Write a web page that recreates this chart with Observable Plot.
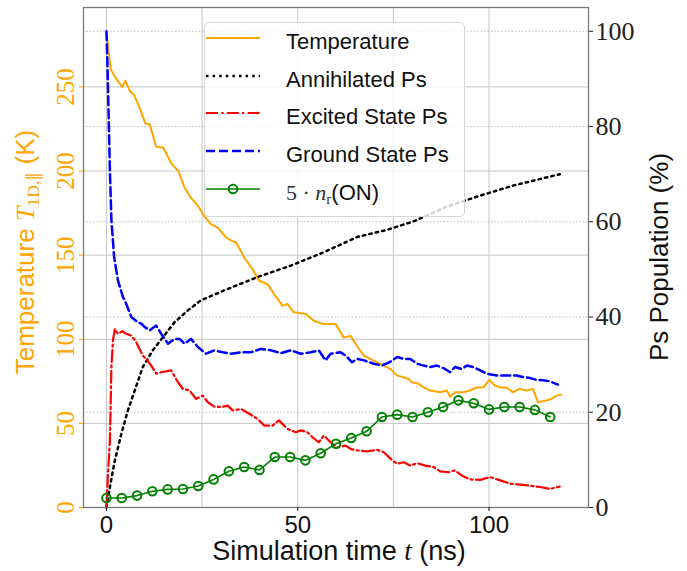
<!DOCTYPE html>
<html>
<head>
<meta charset="utf-8">
<script src="https://cdn.jsdelivr.net/npm/d3@7"></script>
<script src="https://cdn.jsdelivr.net/npm/@observablehq/plot@0.6"></script>
<style>
  body { margin: 0; background: #fff; }
  #wrap { position: relative; width: 687px; height: 571px; overflow: hidden; font-family: "Liberation Sans", sans-serif; }
  #wrap svg { position: absolute; left: 0; top: 0; }
  .lab { position: absolute; white-space: nowrap; line-height: 1; font-size: 26px; transform: translate(-50%, -50%); }
  .rot { transform: translate(-50%, -50%) rotate(-90deg); }
  .m { font-family: "Liberation Serif", serif; }
  .mi { font-family: "Liberation Serif", serif; font-style: italic; }
  .sub { font-family: "Liberation Serif", serif; font-size: 0.68em; position: relative; top: 0.3em; }
  #legend { position: absolute; left: 204px; top: 22px; width: 261px; height: 195px; box-sizing: border-box;
            border: 1px solid #d6d6d6; border-radius: 5px; background: rgba(255,255,255,0.82); }
  .row { position: absolute; left: 0; height: 30px; width: 100%; }
  .row svg { position: absolute; left: 8px; top: 5px; }
  .row span.t { position: absolute; left: 81px; top: 3px; font-size: 22px; line-height: 1; white-space: nowrap; color: #111; }
</style>
</head>
<body>
<div id="wrap"></div>
<script>
// ---------------- data ----------------
const tempTime = [0, 1.1, 2.6, 4.1, 5.0, 6.1, 7.2, 8.7, 10.2, 11.3, 13, 14.8, 17.1, 18.8, 20.4, 22.1, 23.9, 25.6, 27.3, 29.1, 31.3, 32.6, 33.9, 36, 38.2, 39.9, 42.1, 43.8, 46, 47.3, 49, 52.1, 54.2, 56.8, 59.9, 62, 63.8, 65.5, 67.3, 69, 70.8, 72.5, 74.2, 76, 77.7, 79, 79.8, 81.6, 82.9, 84.6, 87.2, 89, 89.8, 91.1, 93.3, 95, 96.8, 98.5, 100.1, 101.6, 102.9, 104.6, 106.2, 108, 109.8, 111.5, 112.8, 114.6, 116.3, 117.6, 118.9];
const tempK = [283, 260.5, 254.6, 250, 253.6, 247.6, 245.3, 237.4, 228.2, 227.8, 214.4, 214, 204, 200, 190.2, 184, 179.3, 173, 168.5, 166.4, 160.5, 158.6, 157.5, 148.6, 141.7, 134.8, 132.8, 126.9, 120, 121, 116, 115, 111, 109, 109, 101, 102, 96, 90.3, 88.3, 86.3, 84.3, 82.4, 78.4, 77.4, 76.4, 74.4, 73.5, 71.4, 69.5, 68.5, 69.5, 65.9, 68.5, 68.5, 69.5, 71.4, 71.4, 75.8, 72.4, 71.4, 71.4, 68.5, 70.5, 69.5, 70.5, 62.5, 63.5, 64.5, 66.5, 67.1];

const annTime = [0, 0.9, 2.2, 3.9, 5.6, 7.4, 9.5, 12.1, 14.8, 17.8, 21.3, 24.7, 30.8, 39.5, 48.2, 56.8, 65.5, 73.3, 80.3, 89, 97.7, 106.3, 118.5];
const annPct = [0, 4.3, 9.9, 15.5, 20.4, 24.6, 29.5, 33, 35.8, 38.9, 41.4, 43.5, 45.6, 48.4, 50.8, 53.6, 56.8, 58.3, 60.1, 63.2, 65.5, 67.6, 70];

const excTime = [0, 0.4, 0.9, 1.3, 1.7, 2.2, 3, 4.1, 5.2, 6.5, 7.8, 9.5, 10.7, 11.7, 13, 14.3, 16.9, 18.7, 20, 21.7, 23.4, 25.2, 26.5, 28.2, 30, 31.7, 33, 35.2, 37.3, 39.5, 41.2, 43.4, 45.1, 47.3, 49.5, 50.8, 52.5, 53.8, 55.5, 56.8, 58.6, 60.3, 62.5, 63.8, 65.5, 68.1, 70.8, 72.5, 74.7, 76, 77.7, 79.4, 81.2, 83.3, 85.5, 87.2, 89.4, 91.1, 92.9, 95, 97.7, 100.3, 102.9, 105.5, 108.1, 110.7, 113.3, 115.9, 118.5];
const excPct = [0, 7.1, 14, 29.5, 35.1, 37.5, 36.5, 37, 36.5, 36.1, 34.7, 31.9, 30.9, 29.8, 28.1, 28.4, 28.8, 26.3, 24.9, 24.6, 22.8, 23.5, 22.1, 21.2, 21.1, 21.4, 20.4, 20.7, 19.7, 18.6, 17.2, 17.2, 18.3, 16.5, 15.8, 16.2, 15.8, 14.8, 13.7, 15.1, 13.7, 12.6, 13, 12.3, 12, 11.8, 12.1, 11.6, 9.9, 9.2, 9.5, 8.8, 9.3, 8.8, 8.5, 7.6, 7.4, 7.8, 6.7, 5.9, 5.8, 6.4, 5.7, 5.0, 4.8, 4.6, 4.3, 3.9, 4.4];

const gndTime = [0, 0.3, 0.6, 0.9, 1.3, 2, 3, 4.3, 4.8, 6.5, 8.2, 9.1, 10, 11.3, 13, 14.3, 16.1, 17.8, 19.1, 20.4, 22.1, 23.9, 26, 28.2, 30.4, 32.6, 35.2, 37.8, 40.4, 43, 45.6, 48.2, 50.8, 53.4, 55.5, 57.3, 58.6, 61.2, 62.5, 64.2, 65.5, 67.3, 69.9, 72, 74, 76, 77.7, 79.4, 81.2, 82.9, 84.6, 86.4, 88.5, 89.8, 91.1, 92.8, 94.2, 95.9, 97.7, 99.4, 102, 104.6, 107.2, 109, 110.7, 112.4, 114.1, 115.9, 118];
const gndPct = [100, 91.8, 81.3, 70.8, 60.3, 52.6, 47.7, 44.2, 43.5, 40, 38.9, 38.6, 37.9, 37.2, 38.2, 36.5, 34.4, 35.4, 35.4, 34.4, 35.4, 33.7, 32.3, 33, 32.6, 32.3, 32.6, 32.6, 33.3, 33, 32.4, 33, 32.3, 32.6, 33, 30.9, 32.3, 32.6, 31.9, 30.5, 31.2, 30.9, 30.2, 29.8, 30.5, 31.6, 31.2, 31.2, 30.2, 29.8, 29.5, 29.8, 29.1, 28.4, 29.5, 29.1, 29.8, 29.5, 28.8, 28.1, 27.7, 27.7, 27.7, 27.4, 27.2, 26.8, 26.7, 26.5, 25.8];

const nrTime = [0, 4, 8, 12, 16, 20, 24, 28, 32, 36, 40, 44, 48, 52, 56, 60, 64, 68, 72, 76, 80, 84, 88, 92, 96, 100, 104, 108, 112, 116];
const nrPct = [2.0, 2.0, 2.5, 3.4, 3.8, 3.9, 4.5, 5.9, 7.6, 8.5, 7.9, 10.6, 10.6, 9.9, 11.4, 13.4, 14.6, 16, 19, 19.5, 19, 20, 21.1, 22.5, 21.9, 20.6, 21.1, 21.1, 20.5, 19];

const xTicks = [0, 50, 100];
const xGridTicks = [0, 25, 50, 75, 100];
const tempTicks = [0, 50, 100, 150, 200, 250];
const popTicks = [0, 20, 40, 60, 80, 100];
const xLimits = [-6, 126];
const tempLimit = 297.2;   // left axis top (K)
const popLimit = 105;      // right axis top (%)

const seriesNames = ["Temperature", "Annihilated Ps", "Excited State Ps", "Ground State Ps", "5·n_r(ON)"];

// ---------------- styles ----------------
const ORANGE = "#FFA500";
const k = popLimit / tempLimit; // temperature -> population-scale conversion
const styles = [
  {stroke: ORANGE, strokeWidth: 2, dash: null},
  {stroke: "#000", strokeWidth: 2.5, dash: "2.5,4.1"},
  {stroke: "#FF0000", strokeWidth: 2.2, dash: "12,3.3,2.2,3.3"},
  {stroke: "#0000FF", strokeWidth: 2.5, dash: "9,4"},
  {stroke: "#008000", strokeWidth: 1.6, dash: null, marker: true}
];

const zip = (ts, vs) => ts.map((t, i) => ({t, v: vs[i]}));
const tempData = zip(tempTime, tempK);
const annData = zip(annTime, annPct);
const excData = zip(excTime, excPct);
const gndData = zip(gndTime, gndPct);
const nrData = zip(nrTime, nrPct);

const lineOf = (data, s, yfn) => Plot.line(data, {x: "t", y: yfn || "v", stroke: s.stroke, strokeWidth: s.strokeWidth,
  strokeDasharray: s.dash || undefined, strokeLinejoin: "round"});

const chart = Plot.plot({
  width: 687, height: 571,
  marginLeft: 83, marginRight: 99, marginTop: 7, marginBottom: 64,
  x: {domain: xLimits},
  y: {domain: [0, popLimit]},
  style: {background: "transparent", fontFamily: "Liberation Sans, sans-serif", overflow: "visible"},
  marks: [
    Plot.gridX(xGridTicks, {stroke: "#c6c6c6", strokeOpacity: 1, strokeWidth: 1}),
    Plot.gridY(tempTicks.map(t => t * k), {stroke: "#c6c6c6", strokeOpacity: 1, strokeWidth: 1}),
    Plot.gridY(popTicks.slice(1), {stroke: "#b8b8b8", strokeOpacity: 1, strokeWidth: 0.9, strokeDasharray: "1.6,1.8"}),
    lineOf(tempData, styles[0], d => d.v * k),
    lineOf(annData, styles[1]),
    lineOf(excData, styles[2]),
    lineOf(gndData, styles[3]),
    lineOf(nrData, styles[4]),
    Plot.dot(nrData, {x: "t", y: "v", r: 4.3, stroke: styles[4].stroke, strokeWidth: 2, fill: "none"}),
    Plot.frame({stroke: "#7a7a7a", strokeWidth: 1.3}),
    Plot.axisX(xTicks, {tickSize: 4, tickPadding: 4, fontSize: 24, label: null, color: "#111"}),
    Plot.axisY(tempTicks.map(t => t * k), {anchor: "left", tickFormat: d => String(Math.round(d / k)),
      tickRotate: -90, tickSize: 4, tickPadding: 6, fontSize: 25, fontFamily: "Liberation Serif, serif",
      color: ORANGE, label: null}),
    Plot.axisY(popTicks, {anchor: "right", tickSize: 4, tickPadding: 3, fontSize: 26,
      fontFamily: "Liberation Serif, serif", color: "#222", label: null})
  ]
});

const wrap = document.getElementById("wrap");
wrap.appendChild(chart);

// ---------------- axis labels ----------------
function addLabel(html, x, y, rot, color, size) {
  const d = document.createElement("div");
  d.className = "lab" + (rot ? " rot" : "");
  d.style.left = x + "px";
  d.style.top = y + "px";
  d.style.color = color;
  if (size) d.style.fontSize = size + "px";
  d.innerHTML = html;
  wrap.appendChild(d);
}
addLabel('Simulation time <span class="mi">t</span> (ns)', 339, 551, false, "#111", 27);
addLabel('Temperature <span class="mi">T</span><span class="sub">1D,∥</span> (K)', 25, 252, true, ORANGE);
addLabel('Ps Population (%)', 659, 257, true, "#111");

// ---------------- legend ----------------
const legend = document.createElement("div");
legend.id = "legend";
wrap.appendChild(legend);
const rowY = [20, 58, 95, 133, 171];
seriesNames.forEach((name, i) => {
  const s = styles[i];
  const row = document.createElement("div");
  row.className = "row";
  row.style.top = (rowY[i] - 15) + "px";
  const ns = "http://www.w3.org/2000/svg";
  const svg = document.createElementNS(ns, "svg");
  svg.setAttribute("width", 58); svg.setAttribute("height", 20);
  const ln = document.createElementNS(ns, "line");
  ln.setAttribute("x1", 1); ln.setAttribute("x2", 55); ln.setAttribute("y1", 10); ln.setAttribute("y2", 10);
  ln.setAttribute("stroke", s.stroke); ln.setAttribute("stroke-width", s.strokeWidth);
  if (s.dash) ln.setAttribute("stroke-dasharray", s.dash);
  svg.appendChild(ln);
  if (s.marker) {
    const c = document.createElementNS(ns, "circle");
    c.setAttribute("cx", 28); c.setAttribute("cy", 10); c.setAttribute("r", 4.3);
    c.setAttribute("fill", "none"); c.setAttribute("stroke", s.stroke); c.setAttribute("stroke-width", 2);
    svg.appendChild(c);
  }
  row.appendChild(svg);
  const t = document.createElement("span");
  t.className = "t";
  if (name === "5·n_r(ON)") {
    t.innerHTML = '<span class="m" style="color:#333">5 · </span><span class="mi" style="color:#333">n</span><span class="sub" style="color:#333">r</span>(ON)';
  } else {
    t.textContent = name;
  }
  row.appendChild(t);
  legend.appendChild(row);
});
</script>
</body>
</html>
